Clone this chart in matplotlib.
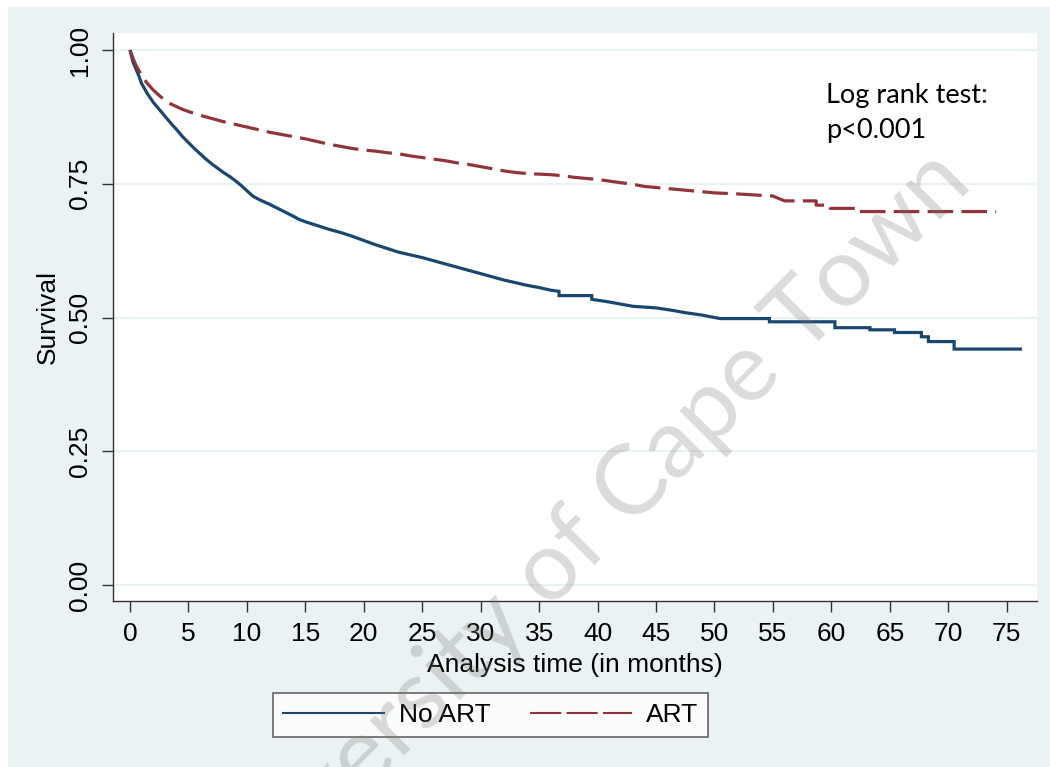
import matplotlib
matplotlib.use("Agg")
import matplotlib.pyplot as plt
from matplotlib.patches import Rectangle
from matplotlib.lines import Line2D

# ---------------- data (Kaplan-Meier curves as read; repeated times mark visible steps) ----------------
no_art_time = [0, 0.25, 0.5, 0.75, 1.0, 1.5, 2.0, 2.5, 3.0, 3.5, 4.0, 4.5, 5.0, 5.5, 6.0,
               6.5, 7.0, 7.5, 8.0, 8.5, 9.0, 9.5, 10.0, 10.5, 11.0, 11.5, 12, 13, 14, 14.5,
               15, 16, 17, 18, 19, 20, 21, 22, 23, 24, 25, 26, 27, 28, 29, 30, 31, 32, 33,
               34, 35, 36, 36.7, 36.7, 39.5, 39.5, 41, 42, 43, 45, 46.5, 47.5, 48.8, 50.5,
               54.7, 54.7, 60.3, 60.3, 63.3, 63.3, 65.4, 65.4, 67.7, 67.7, 68.3, 68.3,
               70.5, 70.5, 76.3]
no_art_surv = [1.000, 0.978, 0.965, 0.952, 0.937, 0.918, 0.902, 0.889, 0.876, 0.863, 0.851,
               0.838, 0.827, 0.816, 0.806, 0.796, 0.787, 0.779, 0.771, 0.764, 0.756, 0.747,
               0.737, 0.727, 0.721, 0.716, 0.711, 0.700, 0.689, 0.683, 0.679, 0.672, 0.665,
               0.659, 0.652, 0.644, 0.636, 0.629, 0.622, 0.617, 0.612, 0.606, 0.600, 0.594,
               0.588, 0.582, 0.576, 0.570, 0.565, 0.560, 0.556, 0.551, 0.549, 0.541, 0.541,
               0.534, 0.529, 0.525, 0.521, 0.518, 0.513, 0.509, 0.505, 0.498,
               0.498, 0.492, 0.492, 0.481, 0.481, 0.477, 0.477, 0.472, 0.472, 0.464,
               0.464, 0.455, 0.455, 0.441, 0.441]

art_time = [0, 0.25, 0.5, 0.75, 1.0, 1.5, 2.0, 2.5, 3.0, 3.5, 4.0, 4.5, 5.0, 6.0, 7.0, 8.0,
            9.0, 10.0, 11.0, 12.0, 13, 14, 15, 16, 17, 18, 19, 20, 21, 22, 23, 24, 25, 26,
            27, 28, 29, 30, 31, 32, 33, 34, 35, 36, 37, 38, 39, 40, 41, 42, 43, 44, 45, 46,
            47, 48, 49, 50, 52, 55, 56, 58.7, 58.7, 59.9, 59.9, 62.4, 62.4, 74.1]
art_surv = [1.000, 0.985, 0.972, 0.962, 0.952, 0.937, 0.925, 0.915, 0.906, 0.899, 0.894,
            0.889, 0.885, 0.878, 0.872, 0.866, 0.861, 0.856, 0.851, 0.846, 0.842, 0.838,
            0.834, 0.829, 0.824, 0.820, 0.816, 0.813, 0.811, 0.808, 0.806, 0.802, 0.799,
            0.796, 0.793, 0.789, 0.786, 0.782, 0.778, 0.774, 0.771, 0.769, 0.768, 0.767,
            0.765, 0.762, 0.760, 0.758, 0.755, 0.752, 0.749, 0.745, 0.743, 0.741, 0.739,
            0.737, 0.735, 0.733, 0.731, 0.727, 0.718, 0.718, 0.710, 0.710, 0.704, 0.704,
            0.698, 0.698]

series_names = ["No ART", "ART"]
x_ticks = list(range(0, 80, 5))
y_ticks = [0.0, 0.25, 0.5, 0.75, 1.0]
y_tick_labels = ["0.00", "0.25", "0.50", "0.75", "1.00"]
x_label = "Analysis time (in months)"
y_label = "Survival"
annot_lines = ["Log rank test:", "p<0.001"]
watermark = "University of Cape Town"

# ---------------- style ----------------
W, H = 1050, 767
BG = "#EAF2F3"
BLUE = "#1A476F"
RED = "#90353B"
AXC = "#333333"
FONT = ["Liberation Sans", "DejaVu Sans"]
FS = 19

fig = plt.figure(figsize=(W / 100, H / 100), dpi=100, facecolor="white")
fig.patches.append(Rectangle((8 / W, 0), 1 - 8 / W, 1 - 7 / H, transform=fig.transFigure,
                             facecolor=BG, edgecolor="none", zorder=-10))

left, right, top, bottom = 113, 1037, 33, 601
ax = fig.add_axes([left / W, 1 - bottom / H, (right - left) / W, (bottom - top) / H])
ax.set_facecolor("white")

ax.plot(no_art_time, no_art_surv, color=BLUE, lw=2.3,
        solid_joinstyle="miter", solid_capstyle="butt", zorder=3)
ax.plot(art_time, art_surv, color=RED, lw=2.3,
        linestyle=(0, (8, 2.6)), dash_capstyle="butt", zorder=4)

ax.set_xlim(-1.454, 77.59)
ax.set_ylim(-0.0299, 1.0318)

for s in ["top", "right"]:
    ax.spines[s].set_visible(False)
for s in ["left", "bottom"]:
    ax.spines[s].set_color(AXC)
    ax.spines[s].set_linewidth(1.0)

ax.set_yticks(y_ticks)
ax.set_yticklabels(y_tick_labels, rotation=90, va="center", ha="right",
                   family=FONT, fontsize=FS)
ax.set_xticks(x_ticks)
ax.set_xticklabels([str(v) for v in x_ticks], family=FONT, fontsize=FS)
ax.tick_params(axis="both", direction="out", length=8, width=1.0, color=AXC)
ax.tick_params(axis="y", pad=7)
ax.tick_params(axis="x", pad=7)

ax.yaxis.grid(True, color=BG, lw=1.6)
ax.set_axisbelow(True)

ax.set_xlabel(x_label, family=FONT, fontsize=FS, labelpad=5)
ax.set_ylabel(y_label, family=FONT, fontsize=FS, labelpad=6)

# annotation
fig.text(826 / W, 1 - 103 / H, annot_lines[0], family=["Lato", "DejaVu Sans"],
         fontsize=19.5, va="baseline", ha="left", color="black")
fig.text(826 / W, 1 - 138 / H, annot_lines[1], family=["Lato", "DejaVu Sans"],
         fontsize=19.5, va="baseline", ha="left", color="black")

# legend
handles = [Line2D([], [], color=BLUE, lw=1.5),
           Line2D([], [], color=RED, lw=1.5, linestyle=(0, (15, 2.5)))]
leg = fig.legend(handles, series_names, loc="center", bbox_to_anchor=(490.5 / W, 1 - 715.4 / H),
                 ncol=2, frameon=True, fancybox=False, prop={"family": FONT, "size": FS},
                 handlelength=3.85, handletextpad=0.55, columnspacing=1.5, borderpad=0.38)
leg.get_frame().set_edgecolor("#404040")
leg.get_frame().set_linewidth(1.2)
leg.get_frame().set_facecolor("white")

# watermark
fig.text(580 / W, 1 - 542 / H, watermark, family=["Lato", "DejaVu Sans"], fontsize=70,
         rotation=45, rotation_mode="anchor", ha="center", va="center",
         color="#7a7a7a", alpha=0.27, zorder=20)

fig.savefig("out.png", dpi=100, facecolor="white")
